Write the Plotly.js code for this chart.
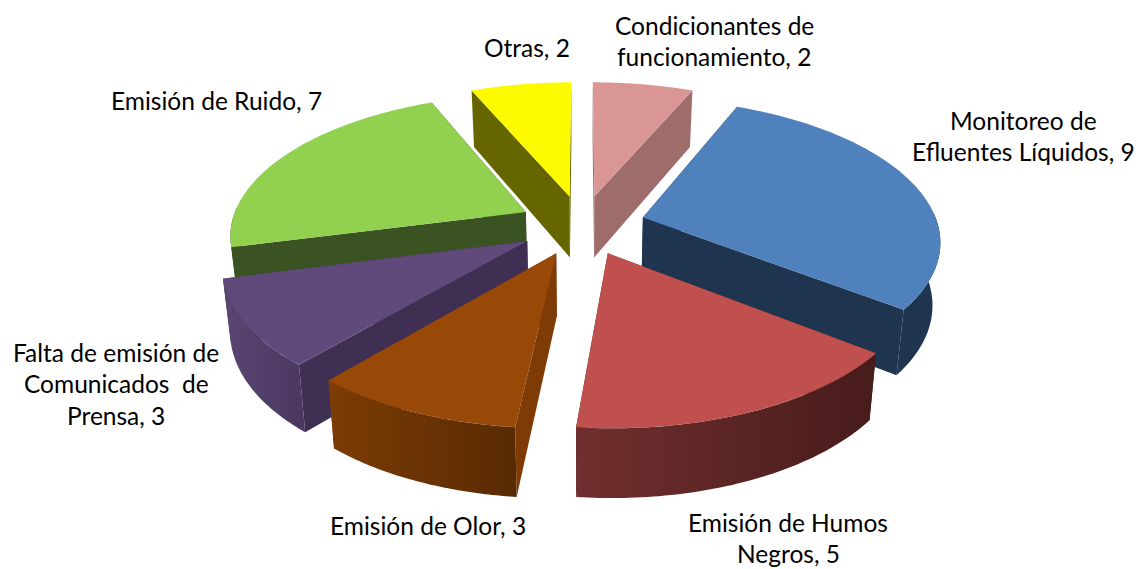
<!DOCTYPE html>
<html><head><meta charset="utf-8">
<script src="https://cdn.plot.ly/plotly-3.0.1.min.js"></script>
<style>html,body{margin:0;padding:0;background:#fff}#c{width:1139px;height:569px}</style>
</head><body><div id="c"></div>
<script>
const categories = ["Condicionantes de<br>funcionamiento","Monitoreo de<br>Efluentes Líquidos","Emisión de Humos<br>Negros","Emisión de Olor","Falta de emisión de<br>Comunicados\u00A0 de<br>Prensa","Emisión de Ruido","Otras"];
const values = [2,9,5,3,3,7,2];
const topColors = ["#d99694","#4f81bd","#c0504d","#984807","#604a7b","#92d050","#fefb00"];
const wallColors = ["#9e6c6b","#1f344f","#4f201f","#7f3b05","#3f2f52","#3b5323","#666600"];
const rimLeft = ["#9e6c6b","#1f344f","#702f2e","#7c3c05","#5a4672","#3b5323","#666600"];
const rimRight = ["#9e6c6b","#1f344f","#471c1b","#582a03","#4a3860","#3b5323","#666600"];
const labelX = [714,1023,788,428,116,216,527];
const labelY = [25,120,522,525,352,100,47];

const W=1139,H=569,cx=582,cy=225,R=295,tilt=0.472,persp=0.15,explode=0.215,lowScale=0.978,depth=62;
const rad=d=>d*Math.PI/180;
const total=values.reduce((a,b)=>a+b,0);
function proj(X,Y,low){
  const s=1/(1+persp*Y);
  let x=cx+R*X*s, y=cy-R*Y*tilt*s;
  if(low){x=cx+(x-cx)*lowScale; y+=depth*Math.pow(s,0.6);}
  return [x,y];
}
function poly(pts,color,grad){
  const t={type:'scatter',mode:'none',x:pts.map(p=>p[0]),y:pts.map(p=>p[1]),fill:'toself',fillcolor:color,hoverinfo:'skip',showlegend:false};
  if(grad) t.fillgradient={type:'horizontal',colorscale:[[0,grad[0]],[1,grad[1]]]};
  return t;
}
let acc=0;
const slices=values.map((v,i)=>{
  const a0=acc/total*360; acc+=v; const a1=acc/total*360; const mid=(a0+a1)/2;
  const ax=explode*Math.sin(rad(mid)), ay=explode*Math.cos(rad(mid));
  return {i,a0,a1,ax,ay};
});
const traces=[];
[...slices].sort((p,q)=>q.ay-p.ay).forEach(sl=>{
  const {i,a0,a1,ax,ay}=sl;
  const pt=(a,low)=>proj(ax+Math.sin(rad(a)),ay+Math.cos(rad(a)),low);
  const apex=low=>proj(ax,ay,low);
  const wall=a=>poly([apex(false),pt(a,false),pt(a,true),apex(true)],wallColors[i]);
  const mid0=(apex(false)[1]+pt(a0,false)[1]), mid1=(apex(false)[1]+pt(a1,false)[1]);
  if(mid0<mid1){traces.push(wall(a0),wall(a1));} else {traces.push(wall(a1),wall(a0));}
  const r0=Math.max(a0,88), r1=Math.min(a1,272);
  if(r1>r0){
    const up=[],dn=[];
    for(let k=0;k<=60;k++){const a=r0+(r1-r0)*k/60; up.push(pt(a,false)); dn.unshift(pt(a,true));}
    traces.push(poly(up.concat(dn),wallColors[i],[rimLeft[i],rimRight[i]]));
  }
  const face=[apex(false)];
  for(let k=0;k<=80;k++){face.push(pt(a0+(a1-a0)*k/80,false));}
  traces.push(poly(face,topColors[i]));
});
const annotations=[];
categories.forEach((c,i)=>{
  const lines=(c+", "+values[i]).split("<br>");
  lines.forEach((ln,j)=>annotations.push({x:labelX[i],y:labelY[i]+j*31.5,text:ln,showarrow:false,xanchor:'center',yanchor:'middle',
    font:{family:'Lato, "Open Sans", sans-serif',size:24.5,color:'#000'}}));
});
Plotly.newPlot('c',traces,{
  width:W,height:H,margin:{l:0,r:0,t:0,b:0},paper_bgcolor:'#fff',plot_bgcolor:'#fff',showlegend:false,
  xaxis:{range:[0,W],visible:false,fixedrange:true},
  yaxis:{range:[H,0],visible:false,fixedrange:true},
  annotations
},{displayModeBar:false,staticPlot:true});
</script></body></html>
